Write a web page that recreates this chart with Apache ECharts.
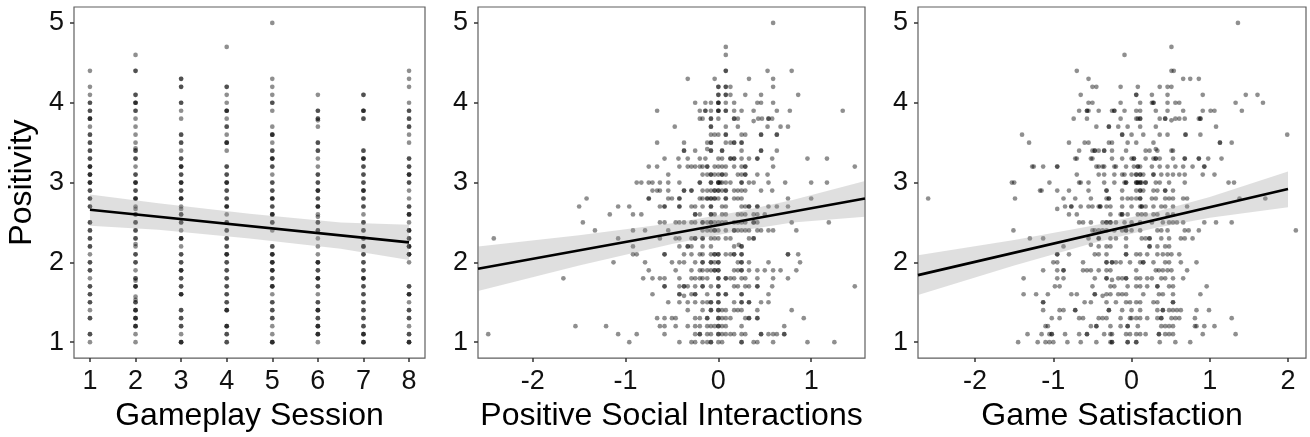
<!DOCTYPE html>
<html>
<head>
<meta charset="utf-8">
<script src="https://cdn.jsdelivr.net/npm/echarts@6/dist/echarts.min.js"></script>
<style>
html,body{margin:0;padding:0;background:#fff;}
#chart{width:1310px;height:437px;}
</style>
</head>
<body>
<div id="chart"></div>
<script>
// ---------- Axis / label data ----------
var yTicks = [1, 2, 3, 4, 5];
var sessionTicks = [1, 2, 3, 4, 5, 6, 7, 8];
var psiTicks = [-2, -1, 0, 1];
var satTicks = [-2, -1, 0, 1, 2];
var axisNames = ['Gameplay Session', 'Positive Social Interactions', 'Game Satisfaction'];
var yName = 'Positivity';

// ---------- Panel 1: positivity per gameplay session, [value, overlap count] ----------
var session1 = [[4.4,1],[4.2,1],[4.1,1],[4.0,2],[3.9,2],[3.8,3],[3.7,1],[3.6,2],[3.5,2],[3.4,2],[3.3,2],[3.2,3],[3.1,3],[3.0,3],[2.9,2],[2.8,2],[2.7,2],[2.5,2],[2.4,2],[2.3,2],[2.2,2],[2.1,1],[2.0,2],[1.9,2],[1.8,1],[1.7,2],[1.6,2],[1.5,2],[1.4,1],[1.3,2],[1.1,2],[1.0,1]];
var session2 = [[4.6,1],[4.4,2],[4.1,2],[4.0,3],[3.9,2],[3.8,1],[3.7,1],[3.6,1],[3.5,1],[3.43,1],[3.4,2],[3.3,2],[3.2,1],[3.1,2],[3.0,3],[2.9,2],[2.8,3],[2.7,1],[2.67,1],[2.6,2],[2.5,2],[2.4,2],[2.3,2],[2.23,1],[2.2,1],[2.1,2],[2.0,2],[1.9,1],[1.8,2],[1.77,1],[1.7,3],[1.57,1],[1.53,1],[1.5,2],[1.4,3],[1.3,3],[1.2,3],[1.1,1],[1.0,1]];
var session3 = [[4.3,2],[4.2,2],[4.0,2],[3.9,1],[3.8,1],[3.6,2],[3.5,2],[3.4,1],[3.3,2],[3.2,3],[3.1,2],[3.0,3],[2.9,2],[2.8,3],[2.7,1],[2.67,1],[2.6,2],[2.5,2],[2.4,1],[2.3,3],[2.2,1],[2.1,2],[2.0,2],[1.9,3],[1.8,2],[1.7,2],[1.6,3],[1.4,2],[1.3,2],[1.2,2],[1.1,1],[1.0,3]];
var session4 = [[4.7,1],[4.2,2],[4.1,1],[4.0,1],[3.9,3],[3.8,1],[3.7,2],[3.6,1],[3.5,3],[3.4,1],[3.2,2],[3.1,2],[3.0,3],[2.9,2],[2.8,2],[2.7,3],[2.6,1],[2.5,2],[2.4,2],[2.3,2],[2.2,2],[2.1,3],[2.0,2],[1.9,2],[1.8,2],[1.7,2],[1.6,2],[1.5,2],[1.4,3],[1.2,3],[1.1,2],[1.0,2]];
var session5 = [[5.0,1],[4.3,1],[4.2,1],[4.1,1],[4.0,2],[3.9,1],[3.7,1],[3.6,3],[3.5,1],[3.4,2],[3.3,3],[3.2,2],[3.1,1],[3.0,2],[2.9,2],[2.8,3],[2.7,2],[2.6,3],[2.5,2],[2.4,1],[2.2,2],[2.1,3],[2.0,3],[1.9,3],[1.8,2],[1.7,3],[1.6,1],[1.5,2],[1.4,2],[1.3,2],[1.2,1],[1.1,1],[1.0,3]];
var session6 = [[4.1,1],[3.9,2],[3.8,2],[3.78,1],[3.7,1],[3.5,2],[3.4,2],[3.3,1],[3.2,1],[3.1,2],[3.0,2],[2.9,3],[2.8,2],[2.7,3],[2.6,1],[2.57,1],[2.5,2],[2.4,2],[2.3,1],[2.2,1],[2.1,1],[2.0,3],[1.9,2],[1.8,3],[1.7,2],[1.6,1],[1.5,2],[1.4,3],[1.3,2],[1.2,3],[1.1,3],[1.0,1]];
var session7 = [[4.1,2],[3.9,3],[3.8,2],[3.4,2],[3.3,3],[3.2,2],[3.1,2],[3.0,2],[2.9,3],[2.8,2],[2.7,2],[2.6,1],[2.5,2],[2.4,2],[2.3,2],[2.2,3],[2.1,2],[2.0,2],[1.9,2],[1.8,3],[1.7,2],[1.6,2],[1.5,2],[1.4,2],[1.3,2],[1.2,2],[1.1,3],[1.0,3]];
var session8 = [[4.4,1],[4.3,1],[4.2,1],[4.0,1],[3.9,2],[3.8,2],[3.7,2],[3.6,1],[3.5,1],[3.3,2],[3.2,2],[3.1,3],[3.0,2],[2.9,1],[2.8,1],[2.7,2],[2.6,3],[2.5,1],[2.4,3],[2.3,2],[2.2,3],[2.1,3],[2.0,1],[1.7,2],[1.6,3],[1.5,1],[1.4,2],[1.3,2],[1.2,1],[1.1,2],[1.0,3]];
var sessions = [session1, session2, session3, session4, session5, session6, session7, session8];

// ---------- Panel 2: Positive Social Interactions, rows [positivity, x values] (repeats = overlaps) ----------
var psiRows = [
[5.0,[0.59]],
[4.7,[0.08]],
[4.6,[0.08]],
[4.4,[0.08,0.08,0.53,0.79]],
[4.3,[-0.33,-0.04,0.33,0.59]],
[4.2,[0,0,0.08,0.08,0.13,0.59]],
[4.1,[0,0,0.08,0.08,0.13,0.29,0.46,0.86]],
[4.0,[-0.25,-0.14,-0.08,0,0,0,0.08,0.17,0.42,0.46,0.59]],
[3.9,[-0.66,-0.20,-0.14,-0.14,-0.08,0,0,0,0.08,0.08,0.17,0.25,0.38,0.63,0.77,1.34]],
[3.8,[-0.20,-0.17,-0.08,-0.08,0,0.17,0.17,0.21,0.43,0.47,0.54,0.54,0.58]],
[3.77,[0.38]],
[3.7,[-0.47,-0.08,-0.08,0.08,0.21,0.53,0.67,0.75]],
[3.6,[-0.08,-0.04,0,0.08,0.08,0.25,0.29,0.46,0.46,0.63,0.63]],
[3.5,[-0.66,-0.37,-0.12,-0.08,-0.08,0.08,0.13,0.17,0.17,0.25,0.25]],
[3.42,[-0.12]],
[3.4,[-0.37,-0.37,-0.25,-0.08,-0.08,0.04,0.04,0.25,0.46,0.46,0.63]],
[3.3,[-0.58,-0.43,-0.33,-0.20,-0.14,0,0.04,0.13,0.13,0.17,0.17,0.25,0.33,0.42,0.42,0.58,0.96,1.17]],
[3.2,[-0.75,-0.66,-0.42,-0.33,-0.29,-0.25,-0.20,-0.17,-0.12,-0.12,-0.04,0,0.04,0.08,0.17,0.25,0.29,0.29,0.59,1.47]],
[3.1,[-0.54,-0.17,-0.12,-0.08,-0.08,-0.04,0,0.04,0.04,0.08,0.21,0.25,0.29,0.29,0.42,0.53]],
[3.0,[-0.88,-0.83,-0.75,-0.71,-0.63,-0.54,-0.42,-0.20,-0.20,-0.08,-0.08,0,0,0,0.02,0.04,0.08,0.13,0.25,0.25,0.33,0.38,0.54,0.72,1.00,1.17]],
[2.9,[-0.71,-0.66,-0.63,-0.54,-0.37,-0.37,-0.29,-0.29,-0.17,-0.12,-0.08,-0.04,-0.04,0,0,0.04,0.08,0.08,0.17,0.21,0.25,0.29,0.46,0.58]],
[2.8,[-1.42,-0.75,-0.75,-0.54,-0.50,-0.42,-0.42,-0.20,-0.17,-0.12,-0.12,-0.08,-0.08,-0.04,-0.04,0,0.08,0.08,0.17,0.21,0.25,0.75,1.00]],
[2.7,[-1.50,-1.08,-0.96,-0.63,-0.58,-0.58,-0.42,-0.42,-0.29,-0.25,-0.17,-0.08,-0.08,0.04,0.08,0.25,0.29,0.33,0.33,0.42,0.42,0.54,0.63,0.75]],
[2.6,[-1.17,-0.92,-0.83,-0.25,-0.25,-0.20,-0.08,-0.08,-0.04,0.04,0.08,0.21,0.25,0.29,0.38,0.42,0.50]],
[2.5,[-1.46,-0.63,-0.58,-0.46,-0.42,-0.37,-0.29,-0.25,-0.17,-0.17,-0.12,-0.08,-0.08,-0.04,0,0.04,0.08,0.17,0.21,0.25,0.29,0.38,0.38,0.42,0.79,1.19]],
[2.4,[-1.33,-0.92,-0.79,-0.54,-0.17,-0.12,-0.08,-0.04,-0.04,0,0.08,0.17,0.17,0.21,0.25,0.29,0.33,0.42,0.46,0.54,0.59,0.84]],
[2.3,[-2.42,-1.08,-0.63,-0.46,-0.42,-0.29,-0.25,-0.25,-0.17,-0.17,-0.08,-0.04,0,0.08,0.13,0.33,0.38,0.38]],
[2.22,[0.22]],
[2.2,[-0.92,-0.42,-0.33,-0.33,-0.29,-0.17,-0.08,0.17,0.25,0.25]],
[2.1,[-0.92,-0.88,-0.58,-0.58,-0.37,-0.29,-0.20,-0.17,-0.08,-0.04,-0.04,0,0,0.08,0.13,0.17,0.17,0.25,0.25,0.75,0.75,0.86]],
[2.0,[-1.13,-0.79,-0.50,-0.42,-0.37,-0.25,-0.17,-0.17,-0.08,-0.08,-0.04,0,0,0.21,0.25,0.25,0.33,0.54,0.88]],
[1.9,[-0.75,-0.46,-0.29,-0.20,-0.17,-0.12,-0.08,-0.04,-0.04,0,0,0.17,0.21,0.25,0.25,0.33,0.42,0.50,0.59,0.67,0.84]],
[1.8,[-1.67,-0.81,-0.71,-0.63,-0.58,-0.42,-0.29,-0.25,-0.20,-0.17,-0.12,0,0,0.08,0.08,0.13,0.17,0.25,0.29,0.42,0.59,0.75]],
[1.7,[-0.58,-0.58,-0.42,-0.37,-0.37,-0.33,-0.25,-0.17,-0.17,-0.08,0,0,0.17,0.21,0.29,0.33,0.42,0.42,0.58,1.47]],
[1.6,[-0.71,-0.42,-0.42,-0.29,-0.25,-0.25,-0.12,0,0,0.08,0.08,0.25,0.25,0.54]],
[1.58,[-0.37]],
[1.5,[-0.54,-0.42,-0.33,-0.25,-0.17,-0.12,-0.08,-0.08,0,0,0.17,0.25,0.25,0.33,0.33,0.46,0.54]],
[1.4,[-0.33,-0.17,-0.08,-0.08,0,0,0.04,0.08,0.17,0.21,0.25,0.42,0.79]],
[1.3,[-0.66,-0.58,-0.50,-0.46,-0.25,-0.20,-0.12,-0.12,0,0,0.04,0.08,0.13,0.29,0.33,0.33,0.42,0.42,0.92]],
[1.2,[-1.54,-1.21,-0.63,-0.58,-0.46,-0.33,-0.25,-0.20,-0.12,-0.08,-0.04,0,0,0.04,0.08,0.25,0.71]],
[1.1,[-2.48,-1.08,-0.88,-0.58,-0.25,-0.20,-0.20,-0.12,-0.08,0,0,0.04,0.08,0.13,0.17,0.25,0.29,0.46,0.46,0.54,0.59,0.63,0.71,0.71]],
[1.0,[-0.96,-0.42,-0.29,-0.25,-0.17,-0.12,-0.08,-0.08,0,0.04,0.25,0.25,0.38,0.42,0.59,0.96,1.25]]
];

// ---------- Panel 3: Game Satisfaction, rows [positivity, x values] ----------
var satRows = [
[5.0,[1.36]],
[4.7,[0.51]],
[4.6,[-0.09]],
[4.4,[-0.70,0.51,0.54]],
[4.3,[-0.55,0.66,0.75,0.86]],
[4.2,[-0.50,-0.45,-0.14,0.08,0.36,0.46,0.51]],
[4.1,[-0.65,0.06,0.06,0.26,0.46,0.91,1.46,1.61]],
[4.0,[-0.55,-0.50,-0.14,0.11,0.26,0.28,0.28,0.46,0.56,0.61,1.33,1.68]],
[3.9,[-0.67,-0.57,-0.57,-0.55,-0.42,-0.25,-0.22,-0.22,-0.09,0.06,0.11,0.31,0.46,0.66,0.91,1.01,1.06,1.41]],
[3.8,[-0.74,-0.57,-0.14,0.06,0.08,0.11,0.11,0.36,0.43,0.43,0.56,0.61,0.68,0.86,0.88,0.88]],
[3.78,[0.51]],
[3.7,[-0.45,-0.29,-0.29,-0.17,-0.05,0.11,0.31,1.08]],
[3.6,[-1.40,-0.12,-0.12,0.00,0.15,0.36,0.46,0.69,0.69,0.88,1.99]],
[3.5,[-1.31,-0.80,-0.60,-0.55,-0.29,-0.25,-0.05,0.06,0.28,1.13,1.13,1.28]],
[3.42,[0.31]],
[3.4,[-0.67,-0.50,-0.47,-0.47,-0.42,-0.35,-0.35,-0.25,-0.07,0.18,0.23,0.33,0.51,0.53]],
[3.3,[-0.72,-0.70,-0.52,-0.50,-0.25,-0.12,0,0.03,0.03,0.18,0.28,0.31,0.31,0.36,0.53,0.68,0.68,0.86,0.86,0.98,1.15]],
[3.2,[-1.27,-1.25,-1.13,-0.95,-0.95,-0.45,-0.42,-0.37,-0.35,-0.22,-0.20,-0.07,0.03,0.08,0.08,0.11,0.26,0.36,0.46,0.56,0.66,0.78,0.93,0.93]],
[3.1,[-0.70,-0.42,-0.35,-0.22,-0.12,-0.09,0,0.06,0.06,0.11,0.11,0.15,0.28,0.28,0.38,0.46,0.53,0.61,0.68,0.91,1.06]],
[3.0,[-1.53,-1.50,-1.05,-0.67,-0.65,-0.55,-0.35,-0.22,-0.09,-0.07,-0.07,0.06,0.06,0.08,0.08,0.11,0.11,0.13,0.18,0.18,0.31,0.36,0.48,0.68,1.24,1.31]],
[2.9,[-1.17,-1.15,-0.95,-0.80,-0.55,-0.32,-0.32,-0.12,0.06,0.11,0.11,0.15,0.28,0.33,0.43,0.43,0.53]],
[2.8,[-2.60,-1.49,-0.87,-0.72,-0.52,-0.32,-0.29,-0.29,-0.12,-0.05,0,0.06,0.11,0.11,0.26,0.31,0.43,0.48,0.53,0.66,0.71,1.38,1.71]],
[2.7,[-0.85,-0.77,-0.77,-0.65,-0.55,-0.50,-0.42,-0.40,-0.40,-0.32,-0.27,-0.12,0,0.11,0.13,0.13,0.18,0.28,0.38,0.43,0.53,0.71]],
[2.67,[-0.95]],
[2.6,[-0.80,-0.70,-0.27,-0.14,-0.12,-0.12,-0.05,0.08,0.13,0.18,0.28,0.33,0.46,0.53]],
[2.5,[-0.67,-0.62,-0.52,-0.37,-0.32,-0.32,-0.27,-0.27,-0.20,-0.09,0,0.11,0.26,0.40,0.48,0.53,0.58,0.66,0.93,1.08,1.28]],
[2.4,[-1.51,-0.50,-0.47,-0.42,-0.37,-0.32,-0.22,-0.12,-0.07,-0.07,0,0.11,0.33,0.38,0.46,0.68,0.73,0.86,2.10]],
[2.3,[-1.30,-1.13,-0.55,-0.42,-0.42,-0.27,-0.20,-0.07,0.13,0.18,0.23,0.23,0.38,0.48,0.63,0.68,0.78]],
[2.22,[-0.52]],
[2.2,[-0.87,-0.42,-0.32,-0.27,-0.07,0.23,0.23,0.33,0.43,0.48]],
[2.1,[-0.95,-0.95,-0.80,-0.47,-0.42,-0.32,-0.07,-0.07,0.06,0.11,0.20,0.33,0.40,0.46,0.51,0.61]],
[2.0,[-1.00,-0.95,-0.62,-0.32,-0.32,-0.25,-0.25,-0.20,-0.14,-0.02,0.11,0.15,0.15,0.28,0.43,0.48,0.63,0.83]],
[1.9,[-1.13,-0.95,-0.87,-0.87,-0.62,-0.57,-0.52,-0.42,-0.32,-0.27,0.06,0.31,0.35,0.40,0.46,0.51,0.71]],
[1.8,[-1.38,-0.95,-0.87,-0.47,-0.32,-0.32,-0.17,-0.12,-0.07,-0.07,0.06,0.11,0.20,0.26,0.38,0.43,0.53,0.66]],
[1.78,[-0.25]],
[1.7,[-0.98,-0.92,-0.50,-0.27,-0.22,-0.05,0.06,0.11,0.20,0.33,0.33,0.48,0.53,0.96]],
[1.6,[-1.38,-1.22,-1.07,-0.77,-0.70,-0.47,-0.47,-0.32,-0.27,-0.17,-0.12,-0.07,0.15,0.35,0.40,0.53,0.88]],
[1.58,[-0.37]],
[1.5,[-1.13,-1.13,-0.60,-0.52,-0.32,-0.20,-0.07,-0.02,0.06,0.11,0.28,0.33,0.53,0.53]],
[1.4,[-1.13,-0.92,-0.87,-0.72,-0.72,-0.29,-0.29,-0.12,0,0.11,0.33,0.40,0.40,0.48,0.53,0.58,0.63,0.83,0.99]],
[1.3,[-1.02,-0.92,-0.67,-0.62,-0.42,-0.37,-0.32,-0.14,-0.02,0,0.06,0.11,0.20,0.33,0.38,0.38,0.51,0.56,0.61,0.81,1.28]],
[1.2,[-1.10,-1.07,-0.52,-0.45,-0.45,-0.27,-0.14,-0.05,-0.05,0.08,0.38,0.43,0.48,0.53,0.81,0.83,0.93,1.06]],
[1.1,[-1.33,-1.15,-1.05,-1.02,-1.02,-0.85,-0.67,-0.57,-0.57,-0.35,-0.27,-0.25,-0.07,-0.02,0.06,0.11,0.18,0.35,0.35,0.43,0.48,0.53,0.91,1.33]],
[1.0,[-1.45,-1.20,-1.10,-1.05,-1.00,-0.82,-0.65,-0.45,-0.27,-0.25,-0.25,-0.05,-0.05,0.06,0.06,0.36,0.56,0.75]]
];

// ---------- Fitted lines and confidence bands ----------
var fit1X = [1, 8];           var fit1Y = [2.66, 2.25];
var band1X = [1, 2.5, 4.5, 6.5, 8];
var band1Lo = [2.46, 2.41, 2.30, 2.17, 2.03];
var band1Hi = [2.85, 2.74, 2.61, 2.50, 2.47];

var fit2X = [-2.59, 1.58];    var fit2Y = [1.92, 2.80];
var band2X = [-2.59, -1.5, -0.5, 0.2, 0.8, 1.58];
var band2Lo = [1.64, 1.96, 2.23, 2.39, 2.50, 2.57];
var band2Hi = [2.20, 2.34, 2.49, 2.63, 2.78, 3.02];

var fit3X = [-2.73, 2.0];     var fit3Y = [1.84, 2.92];
var band3X = [-2.73, -1.5, -0.5, 0.3, 1.0, 2.0];
var band3Lo = [1.59, 1.96, 2.24, 2.43, 2.56, 2.69];
var band3Hi = [2.09, 2.28, 2.46, 2.63, 2.82, 3.14];

var xRanges = [[0.65, 8.35], [-2.59, 1.58], [-2.73, 2.23]];
var yRange = [0.8, 5.2];

// ---------- Build ----------
var FONT = 'Liberation Sans, Arial, Helvetica, sans-serif';
var POINT = 'rgba(0,0,0,0.55)';

function sessionPoints() {
  var out = [];
  sessions.forEach(function (col, i) {
    col.forEach(function (p) {
      for (var k = 0; k < p[1]; k++) out.push([sessionTicks[i], p[0]]);
    });
  });
  return out;
}
function rowPoints(rows) {
  var out = [];
  rows.forEach(function (r) {
    r[1].forEach(function (x) { out.push([x, r[0]]); });
  });
  return out;
}
function zip(a, b) { return a.map(function (v, i) { return [v, b[i]]; }); }

var grids = [
  {left: 74, top: 7, width: 351, height: 352},
  {left: 478, top: 7, width: 387, height: 352},
  {left: 918, top: 7, width: 388, height: 352}
].map(function (g) {
  return Object.assign({show: true, borderColor: '#5f5f5f', borderWidth: 1.2, backgroundColor: 'transparent'}, g);
});

var xTickSets = [sessionTicks, psiTicks, satTicks];
var xAxes = xTickSets.map(function (ticks, i) {
  return {
    type: 'value', gridIndex: i, min: xRanges[i][0], max: xRanges[i][1], position: 'bottom',
    name: axisNames[i], nameLocation: 'middle', nameGap: 33,
    nameTextStyle: {fontSize: 32, color: '#000', fontFamily: FONT},
    axisLine: {show: false, onZero: false},
    axisTick: {show: true, length: 4, customValues: ticks, lineStyle: {color: '#333', width: 1.5}},
    axisLabel: {show: true, customValues: ticks, fontSize: 27, color: '#111', fontFamily: FONT, margin: 10},
    splitLine: {show: false}
  };
});
var yAxes = [0, 1, 2].map(function (i) {
  var ax = {
    type: 'value', gridIndex: i, min: yRange[0], max: yRange[1], position: 'left',
    axisLine: {show: false, onZero: false},
    axisTick: {show: true, length: 4, customValues: yTicks, lineStyle: {color: '#333', width: 1.5}},
    axisLabel: {show: true, customValues: yTicks, fontSize: 27, color: '#111', fontFamily: FONT, margin: 10},
    splitLine: {show: false}
  };
  if (i === 0) {
    ax.name = yName; ax.nameLocation = 'middle'; ax.nameGap = 36;
    ax.nameTextStyle = {fontSize: 32, color: '#000', fontFamily: FONT};
  }
  return ax;
});

var panelPoints = [sessionPoints(), rowPoints(psiRows), rowPoints(satRows)];
var bands = [[band1X, band1Lo, band1Hi], [band2X, band2Lo, band2Hi], [band3X, band3Lo, band3Hi]];
var fits = [[fit1X, fit1Y], [fit2X, fit2Y], [fit3X, fit3Y]];

function bandSeries(i) {
  var b = bands[i];
  var rows = b[0].map(function (x, k) { return [x, b[1][k], b[2][k]]; });
  return {
    type: 'custom', xAxisIndex: i, yAxisIndex: i, data: rows, silent: true, z: 3, clip: true,
    encode: {x: 0, y: [1, 2]},
    renderItem: function (params, api) {
      if (params.dataIndex !== 0) return null;
      var pts = [];
      rows.forEach(function (r) { pts.push(api.coord([r[0], r[2]])); });
      for (var k = rows.length - 1; k >= 0; k--) pts.push(api.coord([rows[k][0], rows[k][1]]));
      return {
        type: 'polygon',
        shape: {points: pts},
        style: {fill: 'rgba(150,150,150,0.3)', stroke: null}
      };
    }
  };
}

var series = [];
[0, 1, 2].forEach(function (i) {
  series.push({
    type: 'scatter', xAxisIndex: i, yAxisIndex: i, data: panelPoints[i],
    symbol: 'circle', symbolSize: 4.7, itemStyle: {color: POINT}, silent: true, z: 2,
    large: false
  });
  series.push(bandSeries(i));
  series.push({
    type: 'line', xAxisIndex: i, yAxisIndex: i, data: zip(fits[i][0], fits[i][1]),
    symbol: 'none', lineStyle: {color: '#000', width: 2.6}, silent: true, z: 4
  });
});

var chart = echarts.init(document.getElementById('chart'), null, {renderer: 'canvas'});
chart.setOption({
  animation: false,
  backgroundColor: '#fff',
  textStyle: {fontFamily: FONT},
  grid: grids,
  xAxis: xAxes,
  yAxis: yAxes,
  series: series
});
</script>
</body>
</html>
